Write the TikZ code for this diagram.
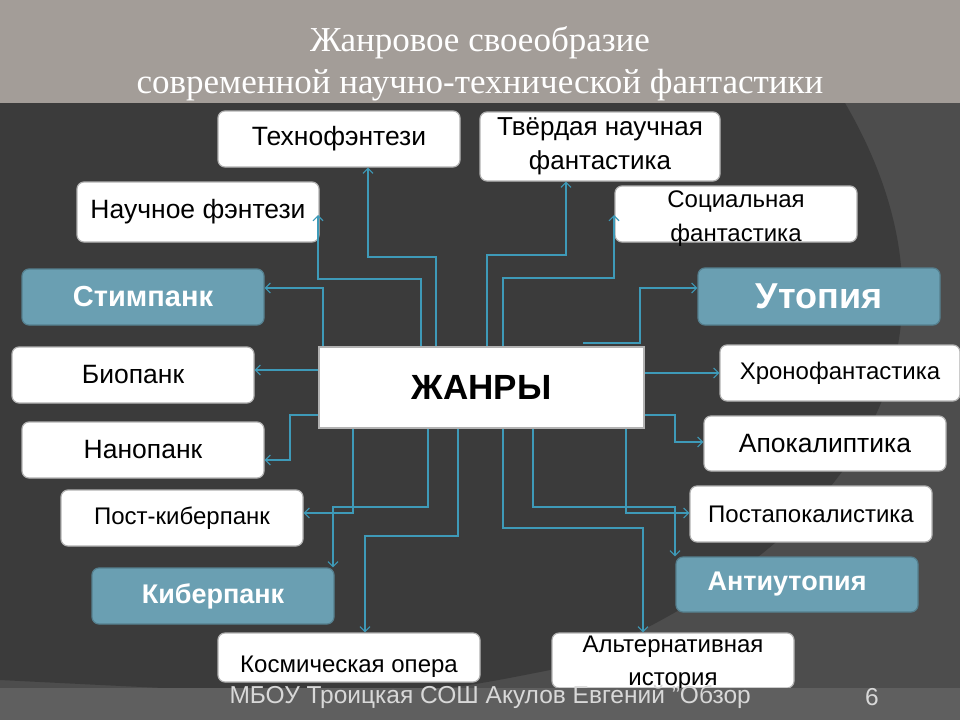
\documentclass[tikz,border=0pt]{standalone}
\usepackage{fontspec}
\setmainfont{Liberation Sans}
\newfontfamily\serifttl{Liberation Serif}
\usetikzlibrary{arrows.meta}
\definecolor{bgdark}{HTML}{3B3B3B}
\definecolor{bglight}{HTML}{4D4D4D}
\definecolor{band}{HTML}{A39D98}
\definecolor{tealbox}{HTML}{6A9FB2}
\definecolor{conn}{HTML}{3E9AB8}
\definecolor{footgray}{HTML}{D8D8D8}
\tikzset{
 wbox/.style={draw=gray!60, line width=1.2pt, fill=white, rounded corners=7pt, align=center, inner sep=0pt, font=\fontsize{26.5}{30}\selectfont},
 tbox/.style={draw=tealbox!80!black, line width=1.2pt, fill=tealbox, rounded corners=7pt, align=center, inner sep=0pt, text=white, font=\bfseries\fontsize{29}{31}\selectfont},
 link/.style={draw=conn, line width=1.1pt, -{Straight Barb[length=5pt,width=10pt]}}
}
\begin{document}
\begin{tikzpicture}[x=1pt,y=-1pt]
\useasboundingbox (0,0) rectangle (960,720);
\fill[bglight] (0,0) rectangle (960,720);
\fill[bgdark] (0,103) -- (845,103) .. controls (960,300) and (920,520) .. (560,668) .. controls (400,700) .. (0,680) -- cycle;
\fill[band] (0,0) rectangle (960,103);
\node[text=white, font=\serifttl\fontsize{35}{42}\selectfont, align=center] (title) at (480,64) {Жанровое своеобразие\\ современной научно-технической фантастики};
% boxes
\node[wbox, minimum width=242, minimum height=56] (tf) at (339,139) {Технофэнтези};
\node[wbox, minimum width=240, minimum height=69, font=\fontsize{26}{34}\selectfont] (tv) at (600,146.5) {Твёрдая научная\\фантастика};
\node[wbox, minimum width=242, minimum height=60] (nf) at (198,212) {Научное фэнтези};
\node[wbox, minimum width=242, minimum height=56] (sf) at (736,214) {};
\node[font=\fontsize{24}{34}\selectfont, align=center] (sft) at (736,219) {Социальная\\фантастика};
\node[tbox, minimum width=242, minimum height=56] (st) at (143,297) {Стимпанк};
\node[tbox, minimum width=242, minimum height=57, font=\bfseries\fontsize{36}{38}\selectfont] (ut) at (819,296.5) {Утопия};
\node[draw=gray!60, line width=1.5pt, fill=white, minimum width=325, minimum height=81, inner sep=0pt, font=\bfseries\fontsize{35}{37}\selectfont] (zh) at (481.5,387.5) {ЖАНРЫ};
\node[wbox, minimum width=242, minimum height=56] (bp) at (133,375) {Биопанк};
\node[wbox, minimum width=240, minimum height=56, font=\fontsize{24}{26}\selectfont] (hf) at (840,373) {Хронофантастика};
\node[wbox, minimum width=242, minimum height=56] (np) at (143,450) {Нанопанк};
\node[wbox, minimum width=242, minimum height=55] (ap) at (825,443.5) {Апокалиптика};
\node[wbox, minimum width=242, minimum height=56, font=\fontsize{24}{26}\selectfont] (pk) at (182,518) {Пост-киберпанк};
\node[wbox, minimum width=242, minimum height=56, font=\fontsize{24}{26}\selectfont] (pa) at (811,514) {Постапокалистика};
\node[tbox, minimum width=242, minimum height=56, font=\bfseries\fontsize{27}{29}\selectfont] (kp) at (213,596) {Киберпанк};
\node[tbox, minimum width=242, minimum height=55, font=\bfseries\fontsize{27}{29}\selectfont] (au) at (797,584.5) {\hspace*{-20pt}Антиутопия};
\node[wbox, minimum width=262, minimum height=49] (ko) at (349,657.5) {};
\node[font=\fontsize{24}{26}\selectfont] (kot) at (349,667) {Космическая опера};
\node[wbox, minimum width=242, minimum height=55] (al) at (673,660.5) {};
\node[font=\fontsize{24}{33}\selectfont, align=center, anchor=north] (alt) at (673,632) {Альтернативная\\история};
% footer
\fill[bglight!90!white] (0,688) rectangle (960,720);
\node[text=footgray, font=\fontsize{24.5}{26}\selectfont, anchor=west] (ft) at (226,697) {МБОУ Троицкая СОШ Акулов Евгений "Обзор};
\node[text=footgray, font=\fontsize{24.5}{26}\selectfont] (pg) at (872,697) {6};
% connectors
\draw[link] (436,347 |- zh.north) -- (436,257) -- (368,257) -- (368,0 |- tf.south);
\draw[link] (421,347 |- zh.north) -- (421,279) -- (318,279) -- (318,215);
\draw[link] (323,347 |- zh.north) -- (323,288) -- (264,288 -| st.east);
\draw[link] (zh.west |- 0,370) -- (bp.east |- 0,370);
\draw[link] (487,347 |- zh.north) -- (487,255) -- (566,255) -- (566,0 |- tv.south);
\draw[link] (503,347 |- zh.north) -- (503,278) -- (614,278) -- (614,215);
\draw[link] (583,343) -- (640,343) -- (640,288) -- (ut.west |- 0,288);
\draw[link] (zh.east |- 0,373) -- (hf.west |- 0,373);
\draw[link] (zh.west |- 0,415) -- (290,415) -- (290,460) -- (np.east |- 0,460);
\draw[link] (353,0 |- zh.south) -- (353,513) -- (pk.east |- 0,513);
\draw[link] (428,0 |- zh.south) -- (428,507) -- (333,507) -- (333,0 |- kp.north);
\draw[link] (458,0 |- zh.south) -- (458,536) -- (365,536) -- (365,0 |- ko.north);
\draw[link] (zh.east |- 0,415) -- (675,415) -- (675,442) -- (ap.west |- 0,442);
\draw[link] (533,0 |- zh.south) -- (533,507) -- (675,507) -- (675,0 |- au.north);
\draw[link] (626,0 |- zh.south) -- (626,513) -- (pa.west |- 0,513);
\draw[link] (503,0 |- zh.south) -- (503,528) -- (643,528) -- (643,0 |- al.north);
\end{tikzpicture}
\end{document}
